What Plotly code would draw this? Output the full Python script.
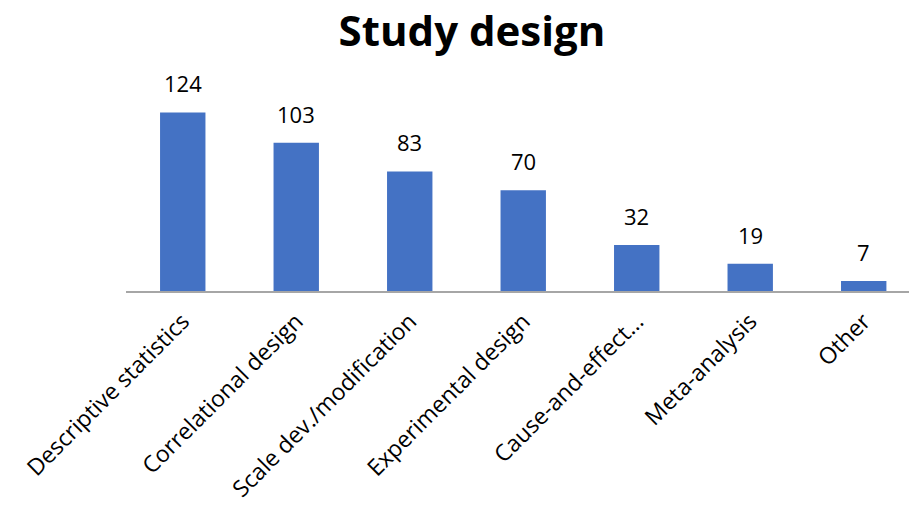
import plotly.graph_objects as go

categories = ["Descriptive statistics", "Correlational design", "Scale dev./modification",
              "Experimental design", "Cause-and-effect…", "Meta-analysis", "Other"]
values = [124, 103, 83, 70, 32, 19, 7]

FONT = "Open Sans"

fig = go.Figure(go.Bar(
    x=categories, y=values, width=0.4,
    marker=dict(color="#4472C4", line=dict(width=0)),
    cliponaxis=False,
))

for c, v in zip(categories, values):
    fig.add_annotation(x=c, y=v, text=str(v), showarrow=False, xanchor="center",
                       yanchor="bottom", yshift=12,
                       font=dict(family=FONT, size=22, color="#000000"))

fig.update_layout(
    width=909, height=509,
    margin=dict(l=126, r=0, t=75, b=218, pad=0),
    paper_bgcolor="white", plot_bgcolor="white",
    showlegend=False,
    title=dict(text="<b>Study design</b>", x=472/909, xanchor="center", xref="container",
               y=1 - 31/509, yanchor="middle", yref="container",
               font=dict(family=FONT, size=42, color="#000000")),
    xaxis=dict(range=[-0.5, 6.399], tickangle=-45, showgrid=False, showline=True,
               linecolor="#A6A6A6", linewidth=1.5, ticks="", ticklabelstandoff=6,
               automargin=False,
               tickfont=dict(family=FONT, size=23, color="#000000")),
    yaxis=dict(range=[0, 150], visible=False, showgrid=False, zeroline=False,
               automargin=False),
)

fig.write_html("out.html")
